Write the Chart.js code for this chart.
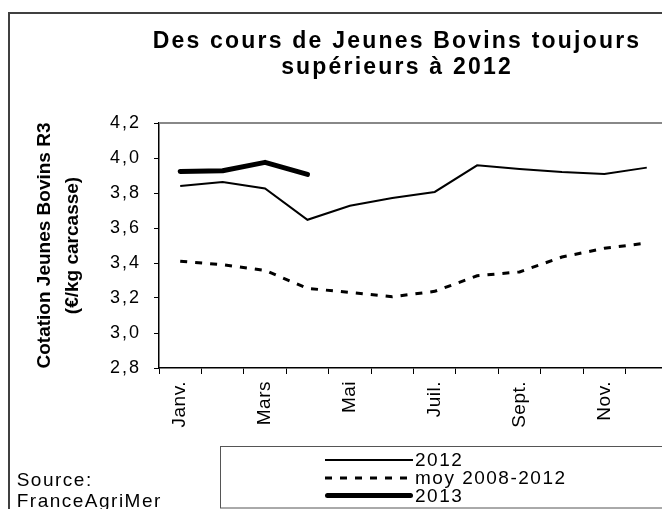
<!DOCTYPE html>
<html lang="fr">
<head>
    <meta charset="UTF-8">
    <title>Cotation Jeunes Bovins R3</title>
    <style>
        body { margin: 0; background: #fff; overflow: hidden; }
        .frame { width: 662px; height: 509px; overflow: hidden; position: relative; }
        canvas { position: absolute; left: 0; top: 0; }
    </style>
</head>
<body>
    <div class="frame"><canvas id="chart" width="700" height="540"></canvas></div>

    <script src="https://cdn.jsdelivr.net/npm/chart.js"></script>
    <script>
        const months = ['Janv.', 'Févr.', 'Mars', 'Avr.', 'Mai', 'Juin', 'Juil.', 'Août', 'Sept.', 'Oct.', 'Nov.', 'Déc.'];
        const tickLabels = ['Janv.', '', 'Mars', '', 'Mai', '', 'Juil.', '', 'Sept.', '', 'Nov.', ''];
        const cours2012 = [3.84, 3.863, 3.826, 3.647, 3.727, 3.771, 3.806, 3.958, 3.937, 3.92, 3.909, 3.945];
        const moy2008_2012 = [3.41, 3.39, 3.358, 3.255, 3.232, 3.207, 3.238, 3.327, 3.349, 3.434, 3.484, 3.514];
        const cours2013 = [3.923, 3.927, 3.975, 3.906];
        const titleLines = ['Des cours de Jeunes Bovins toujours', 'supérieurs à 2012'];
        const yTitleLines = ['Cotation Jeunes Bovins R3', '(€/kg carcasse)'];
        const sourceLines = ['Source:', 'FranceAgriMer'];

        const FONT = '"Liberation Sans", Arial, sans-serif';

        // frame, titles, legend and source drawn around the chart area
        const decor = {
            id: 'decor',
            afterDraw(chart) {
                const ctx = chart.ctx;
                const a = chart.chartArea;
                ctx.save();

                ctx.strokeStyle = '#404040';
                ctx.lineWidth = 2;
                ctx.strokeRect(9, 13, 1000, 1000);

                ctx.strokeStyle = '#888';
                ctx.lineWidth = 2;
                ctx.beginPath();
                ctx.moveTo(a.left, a.top);
                ctx.lineTo(a.right + 10, a.top);
                ctx.stroke();

                ctx.fillStyle = '#000';
                ctx.font = 'bold 23px ' + FONT;
                ctx.letterSpacing = '2.2px';
                ctx.textAlign = 'center';
                ctx.textBaseline = 'alphabetic';
                titleLines.forEach((t, i) => ctx.fillText(t, 397, 47.5 + i * 26));

                // y axis title
                ctx.save();
                ctx.letterSpacing = '0px';
                ctx.font = 'bold 19px ' + FONT;
                ctx.translate(50, (a.top + a.bottom) / 2);
                ctx.rotate(-Math.PI / 2);
                yTitleLines.forEach((t, i) => ctx.fillText(t, 0, i * 28));
                ctx.restore();

                // legend
                ctx.strokeStyle = '#555';
                ctx.lineWidth = 1;
                ctx.strokeRect(220.5, 446.5, 1000, 61.5);
                const rows = [460, 478, 495.5];
                ctx.font = '19px ' + FONT;
                ctx.letterSpacing = '1.5px';
                ctx.textAlign = 'left';
                ctx.textBaseline = 'middle';
                chart.data.datasets.forEach((ds, i) => {
                    ctx.save();
                    ctx.strokeStyle = ds.borderColor;
                    ctx.lineWidth = ds.borderWidth;
                    ctx.setLineDash(ds.borderDash || []);
                    ctx.lineCap = ds.borderCapStyle || 'butt';
                    const inset = ctx.lineCap === 'round' ? ds.borderWidth / 2 : 0;
                    ctx.beginPath();
                    ctx.moveTo(325 + inset, rows[i]);
                    ctx.lineTo(413 - inset, rows[i]);
                    ctx.stroke();
                    ctx.restore();
                    ctx.fillText(ds.label, 415, rows[i] + 1);
                });

                sourceLines.forEach((t, i) => ctx.fillText(t, 16.7, 481 + i * 21));
                ctx.restore();
            }
        };

        const chart = new Chart(document.getElementById('chart'), {
            type: 'line',
            data: {
                labels: months,
                datasets: [
                    { label: '2012', data: cours2012, borderColor: '#000', borderWidth: 2, pointRadius: 0 },
                    { label: 'moy 2008-2012', data: moy2008_2012, borderColor: '#000', borderWidth: 3, borderDash: [7, 8], pointRadius: 0 },
                    { label: '2013', data: cours2013, borderColor: '#000', borderWidth: 5, borderCapStyle: 'round', borderJoinStyle: 'round', pointRadius: 0 }
                ]
            },
            options: {
                responsive: false,
                animation: false,
                devicePixelRatio: 1,
                layout: { padding: { top: 123, left: 0, right: 32, bottom: 72 } },
                plugins: {
                    legend: { display: false },
                    title: { display: false },
                    tooltip: { enabled: false }
                },
                scales: {
                    x: {
                        offset: true,
                        grid: { offset: true, drawOnChartArea: false, tickLength: 6, color: '#000', lineWidth: 1 },
                        border: { color: '#000', width: 1.5 },
                        ticks: {
                            autoSkip: false,
                            maxRotation: 90,
                            minRotation: 90,
                            padding: 7,
                            color: '#000',
                            font: { family: FONT, size: 19 },
                            callback: (v, i) => tickLabels[i]
                        },
                        afterFit: s => { s.height = 100; }
                    },
                    y: {
                        min: 2.8,
                        max: 4.2,
                        ticks: {
                            stepSize: 0.2,
                            padding: 13,
                            color: '#000',
                            font: { family: FONT, size: 18 },
                            callback: v => v.toFixed(1).replace('.', ',')
                        },
                        grid: { drawOnChartArea: false, tickLength: 5, color: '#000' },
                        border: { color: '#000', width: 1.5 },
                        afterFit: s => { s.width = 159; }
                    }
                }
            },
            plugins: [decor]
        });

        // tick labels get their own letter spacing
        function spaced(scale, spacing) {
            const drawLabels = scale.drawLabels;
            scale.drawLabels = function (area) {
                this.ctx.save();
                this.ctx.letterSpacing = spacing;
                drawLabels.call(this, area);
                this.ctx.restore();
            };
        }
        spaced(chart.scales.x, '0.5px');
        spaced(chart.scales.y, '2px');
        chart.draw();
    </script>
</body>
</html>
